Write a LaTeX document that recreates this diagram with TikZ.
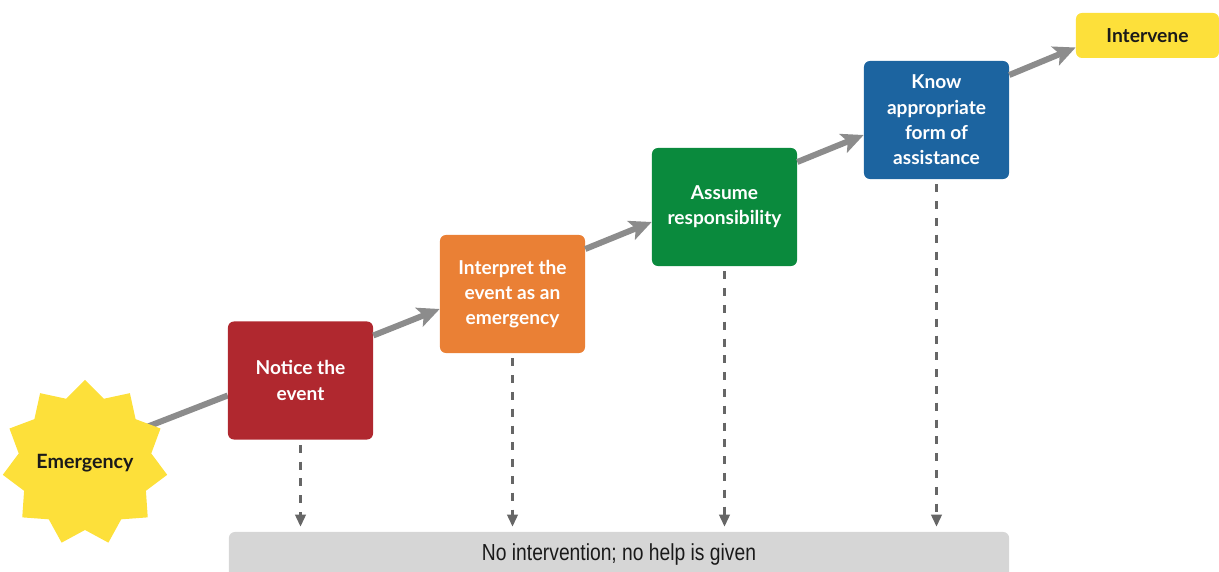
\documentclass[tikz,border=0pt]{standalone}
\usepackage{fontspec}
\setmainfont{Lato}
\newfontfamily\narrowfont[FakeStretch=0.83]{Liberation Sans}
\usetikzlibrary{shapes.geometric,arrows.meta,calc,backgrounds}

\begin{document}
\begin{tikzpicture}[x=0.025cm,y=0.025cm,
  stepbox/.style={rectangle, rounded corners=0.15cm, minimum width=3.625cm, minimum height=2.95cm,
    align=center, text=white, font=\bfseries\fontsize{13.6}{18}\selectfont},
  flow/.style={line width=0.15cm, color=8C8C8C, -{Stealth[length=0.55cm,width=0.5cm,inset=0.12cm]}},
  drop/.style={line width=1.8pt, color=666666, dash pattern=on 0.2cm off 0.22cm,
    -{Triangle[length=0.3cm,width=0.26cm]}, shorten <=0.125cm, shorten >=0.125cm}]
\definecolor{B0282F}{rgb}{0.69020,0.15686,0.18431}
\definecolor{EA8035}{rgb}{0.91765,0.50196,0.20784}
\definecolor{0A8A3D}{rgb}{0.03922,0.54118,0.23922}
\definecolor{1C64A0}{rgb}{0.10980,0.39216,0.62745}
\definecolor{FDE03A}{rgb}{0.99216,0.87843,0.22745}
\definecolor{D6D6D6}{rgb}{0.83922,0.83922,0.83922}
\definecolor{8C8C8C}{rgb}{0.54902,0.54902,0.54902}
\definecolor{666666}{rgb}{0.40000,0.40000,0.40000}
\definecolor{1A1A1A}{rgb}{0.10196,0.10196,0.10196}
\useasboundingbox (0,0) rectangle (1219,572);
\clip (0,0) rectangle (1219,572);

% the four steps and the two ends
\node[star, star points=11, star point ratio=1.24, minimum size=4.15cm, inner sep=0pt,
  fill=FDE03A, label={[text=1A1A1A, font=\bfseries\fontsize{14}{16}\selectfont]center:Emergency}] (emergency) at (85,109) {};
\node[stepbox, fill=B0282F] (notice) at (300.5,191.5) {Notice the\\event};
\node[stepbox, fill=EA8035] (interpret) at (512.5,278) {Interpret the\\event as an\\emergency};
\node[stepbox, fill=0A8A3D] (assume) at (724.5,365) {Assume\\responsibility};
\node[stepbox, fill=1C64A0] (know) at (936.5,452) {Know\\appropriate\\form of\\assistance};
\node[rectangle, rounded corners=0.15cm, minimum width=3.575cm, minimum height=1.125cm,
  fill=FDE03A, text=1A1A1A, font=\bfseries\fontsize{13.7}{16}\selectfont] (intervene) at (1147.5,536.5) {Intervene};

% grey bar at the bottom, running off the page
\node[rectangle, rounded corners=0.15cm, minimum width=19.5cm, minimum height=2.5cm,
  fill=D6D6D6] (nohelp) at (619,-10) {};
\node[font=\narrowfont\fontsize{16.5}{18}\selectfont, text=1A1A1A] (nohelptext) at (619,17) {No intervention; no help is given};

% rising arrows
\begin{scope}[on background layer]
\draw[line width=0.15cm, color=8C8C8C] ($(emergency.center)+(0,12)$) -- ($(notice.west)+(0,-15)$);
\end{scope}
\draw[flow] ($(notice.east)+(0,45)$) -- ($(interpret.west)+(0,-15)$);
\draw[flow] ($(interpret.east)+(0,45)$) -- ($(assume.west)+(0,-15)$);
\draw[flow] ($(assume.east)+(0,45)$) -- ($(know.west)+(0,-15)$);
\draw[flow] ($(know.east)+(0,45)$) -- ($(intervene.west)+(0,-12)$);

% dropping out at each step
\foreach \s in {notice,interpret,assume,know}
  \draw[drop] (\s.south) -- (\s.south |- nohelp.north);
\end{tikzpicture}
\end{document}
